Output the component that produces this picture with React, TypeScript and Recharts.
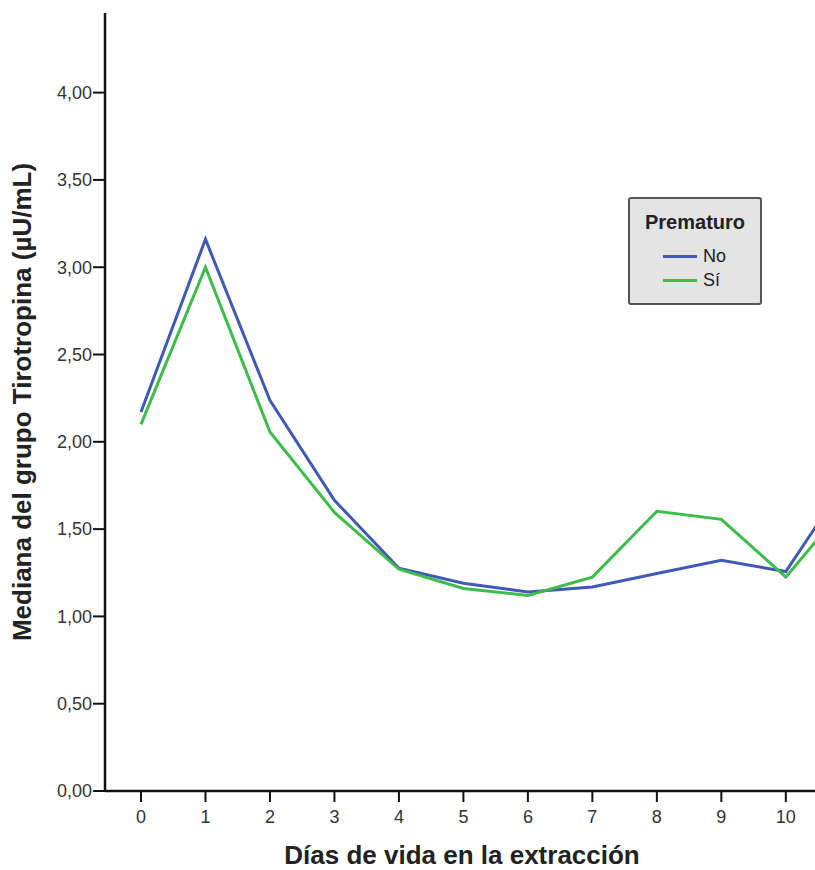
import React from 'react';
import { LineChart, Line, XAxis, YAxis, Legend } from 'recharts';

const dias = [0, 1, 2, 3, 4, 5, 6, 7, 8, 9, 10, 11];
const prematuroNo = [2.171, 3.16, 2.238, 1.665, 1.276, 1.19, 1.14, 1.168, 1.246, 1.321, 1.257, 1.81];
const prematuroSi = [2.1, 3.0, 2.056, 1.596, 1.27, 1.16, 1.12, 1.225, 1.602, 1.556, 1.225, 1.665];
const yTicks = [0, 0.5, 1, 1.5, 2, 2.5, 3, 3.5, 4];
const xTicks = [0, 1, 2, 3, 4, 5, 6, 7, 8, 9, 10];
const seriesNames = ['No', 'Sí'];
const seriesColors = ['#4058b8', '#3cbc4a'];

const data = dias.map((d, i) => ({ dia: d, No: prematuroNo[i], Si: prematuroSi[i] }));

const FONT = '"Liberation Sans", Arial, Helvetica, sans-serif';

const fmt = (v: number) => v.toFixed(2).replace('.', ',');

const LegendBox = () => (
  <div
    style={{
      width: 134,
      height: 108,
      boxSizing: 'border-box',
      background: '#e4e4e4',
      border: '2px solid #555',
      borderRadius: 3,
      fontFamily: FONT,
      color: '#222',
      position: 'relative',
    }}
  >
    <div style={{ position: 'absolute', top: 12, left: 0, width: '100%', textAlign: 'center', fontWeight: 'bold', fontSize: 20 }}>
      Prematuro
    </div>
    {seriesNames.map((n, i) => (
      <div key={n} style={{ position: 'absolute', left: 33, top: 46 + i * 24, display: 'flex', alignItems: 'center', height: 22 }}>
        <div style={{ width: 34, height: 3, background: seriesColors[i], marginRight: 6 }} />
        <span style={{ fontSize: 18 }}>{n}</span>
      </div>
    ))}
  </div>
);

export default function App() {
  return (
    <div style={{ position: 'absolute', left: 0, top: 0, width: 815, height: 870, overflow: 'hidden', background: '#fff' }}>
      <LineChart width={900} height={870} data={data} margin={{ top: 13, right: 11, bottom: 0, left: 0 }}>
        <XAxis
          dataKey="dia"
          type="number"
          domain={[-0.558, 11.6]}
          ticks={xTicks}
          interval={0}
          allowDataOverflow
          height={79}
          tickSize={11}
          tickMargin={8}
          axisLine={{ stroke: '#111', strokeWidth: 2.5 }}
          tickLine={{ stroke: '#111', strokeWidth: 2 }}
          tick={{ fill: '#333', fontSize: 18, fontFamily: FONT }}
        />
        <XAxis
          xAxisId="top"
          orientation="top"
          dataKey="dia"
          type="number"
          domain={[-0.558, 11.6]}
          height={0}
          tick={false}
          tickLine={false}
          axisLine={{ stroke: '#111', strokeWidth: 2.5 }}
        />
        <YAxis
          domain={[0, 4.456]}
          ticks={yTicks}
          allowDataOverflow
          width={105}
          tickSize={12}
          tickMargin={1}
          tickFormatter={fmt}
          axisLine={{ stroke: '#111', strokeWidth: 2.5 }}
          tickLine={{ stroke: '#111', strokeWidth: 2 }}
          tick={{ fill: '#333', fontSize: 18, fontFamily: FONT }}
          label={{
            value: 'Mediana del grupo Tirotropina (µU/mL)',
            angle: -90,
            position: 'insideLeft',
            offset: 22,
            style: { textAnchor: 'middle', fontWeight: 'bold', fontSize: 26, fontFamily: FONT, fill: '#222' },
          }}
        />
        <Legend
          layout="horizontal"
          verticalAlign="middle"
          align="center"
          content={() => <LegendBox />}
          wrapperStyle={{ left: 628, top: 197, width: 134, height: 108 }}
        />
        <Line type="linear" dataKey="No" name="No" stroke={seriesColors[0]} strokeWidth={3} dot={false} isAnimationActive={false} />
        <Line type="linear" dataKey="Si" name="Sí" stroke={seriesColors[1]} strokeWidth={3} dot={false} isAnimationActive={false} />
      </LineChart>
      <div
        style={{
          position: 'absolute',
          left: 262,
          width: 400,
          top: 840,
          textAlign: 'center',
          fontFamily: FONT,
          fontWeight: 'bold',
          fontSize: 26,
          color: '#222',
          whiteSpace: 'nowrap',
        }}
      >
        Días de vida en la extracción
      </div>
    </div>
  );
}
